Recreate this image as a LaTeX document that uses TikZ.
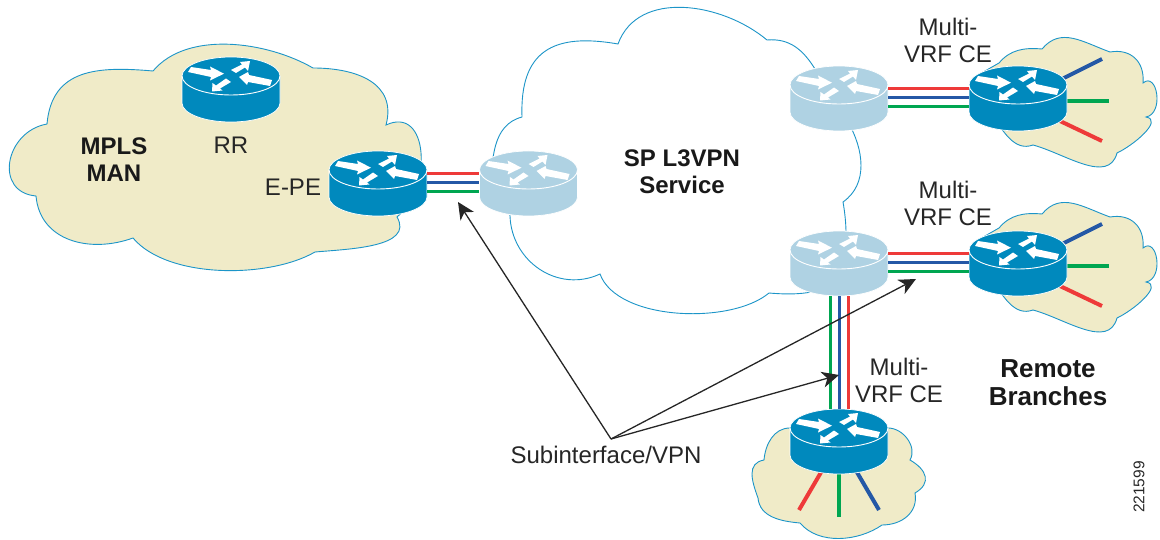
\documentclass[tikz,border=0pt]{standalone}
\usepackage{fontspec}
\setmainfont{Liberation Sans}
\usetikzlibrary{arrows.meta,backgrounds}

\definecolor{routerdark}{HTML}{0089BD}
\definecolor{routerlight}{HTML}{AFD2E3}
\definecolor{cloudcream}{HTML}{F0EBC8}
\definecolor{cloudline}{HTML}{1C95C8}
\definecolor{vpnred}{HTML}{EE3A39}
\definecolor{vpnblue}{HTML}{2458A6}
\definecolor{vpngreen}{HTML}{00A651}

\tikzset{
  pics/router/.style={code={
    \node[inner sep=0pt,minimum width=98pt,minimum height=65pt] (-box) at (0,-13.5) {};
    \draw[white,line width=.7pt,fill=#1] (-49,0) -- (-49,-27) arc[start angle=180,end angle=360,x radius=49,y radius=19] -- (49,0) arc[start angle=0,end angle=180,x radius=49,y radius=19] -- cycle;
    \draw[white,line width=.9pt] (-49,0) arc[start angle=180,end angle=360,x radius=49,y radius=19];
    \fill[white] (-40,9) -- (-20,6) -- (-21,9.5) -- (-7,2.3) -- (-21,-4.5) -- (-20,-1) -- (-43,4) -- cycle;
    \fill[white] (0,6) -- (11,11.5) -- (9,14) -- (19,15) -- (17,5) -- (14,8.5) -- (5,3) -- cycle;
    \fill[white] (-5,-2.5) -- (-15,-9.5) -- (-18.5,-7) -- (-19,-15.5) -- (-8.5,-14.5) -- (-11,-12.5) -- (0,-6) -- cycle;
    \fill[white] (41,-4) -- (18,1) -- (17,4) -- (8,-1) -- (16,-9) -- (17,-6) -- (39,-10) -- cycle;
  }}
}

\begin{document}
\begin{tikzpicture}[x=1pt,y=1pt,
    cloud line/.style={draw=cloudline,line width=.9pt},
    cream cloud/.style={cloud line,fill=cloudcream},
    vpn link/.style={line width=3pt},
    vpn branch/.style={line width=4pt},
    pointer/.style={black!85,line width=1.3pt,-{Stealth[length=17pt,width=16pt,inset=5pt]}},
    plain label/.style={align=center,inner sep=0pt,font=\fontsize{24}{27}\selectfont,text=black!85},
    bold label/.style={align=center,inner sep=0pt,font=\fontsize{24}{27}\selectfont\bfseries,text=black!90}]

  \useasboundingbox (0,0) rectangle (1160,-540);

  % routers
  \pic (rr) at (231,-76) {router=routerdark};
  \pic (epe) at (378,-170) {router=routerdark};
  \pic (pe) at (528.5,-170) {router=routerlight};
  \pic (pea) at (839,-85) {router=routerlight};
  \pic (peb) at (839,-250) {router=routerlight};
  \pic (cea) at (1018,-85) {router=routerdark};
  \pic (ceb) at (1018,-250) {router=routerdark};
  \pic (cec) at (839,-428) {router=routerdark};

  % coordinates for the free ends
  \coordinate (ceablue) at (1102,-59);
  \coordinate (ceagreen) at (1109,-101);
  \coordinate (ceared) at (1102,-141);
  \coordinate (cebblue) at (1102,-224);
  \coordinate (cebgreen) at (1109,-266);
  \coordinate (cebred) at (1102,-306);
  \coordinate (cecred) at (799,-510);
  \coordinate (cecgreen) at (839,-517);
  \coordinate (cecblue) at (879,-510);

  \begin{pgfonlayer}{background}
    % clouds
    \draw[cream cloud] (47,-124) to[out=85,in=175,looseness=1.2] (153,-71) to[out=50,in=150,looseness=.85] (313,-68)
      to[out=0,in=75,looseness=1.2] (386,-125) to[out=25,in=40,looseness=1.3] (397,-217)
      to[out=-60,in=5] (315,-252) to[out=-150,in=-50,looseness=.75] (133,-238)
      to[out=-160,in=-85,looseness=1.1] (36,-196) to[out=175,in=190,looseness=1.5] (47,-124) -- cycle;
    \draw[cloud line,fill=white] (522,-117) to[out=92,in=170,looseness=1.4] (618,-44) to[out=70,in=140] (767,-40)
      to[out=5,in=130] (848,-122) to[out=-60,in=35] (843,-202)
      to[out=-80,in=90] (846,-262) to[out=-100,in=-5] (769,-293)
      to[out=-140,in=-70,looseness=.75] (600,-274) to[out=-155,in=-88,looseness=1.1] (510,-216)
      to[out=90,in=-60] (490,-190) to[out=85,in=195] (522,-117) -- cycle;
    \foreach \cx/\cy in {1018/-85,1018/-250}{
      \begin{scope}[shift={(\cx,\cy)}]
        \draw[cream cloud] (-19,22) to[out=50,in=175] (24,36) to[out=50,in=160,looseness=1.1] (92,33)
          to[out=10,in=85,looseness=1.2] (125,2) to[out=40,in=10,looseness=1.4] (128,-32)
          to[out=-10,in=25] (99,-68) to[out=-105,in=-15] (15,-60)
          to[out=-160,in=-55] (-26,-30) -- (-40,10) -- cycle;
      \end{scope}
    }
    \draw[cream cloud] (790,-428) to[out=180,in=85] (764,-460) to[out=-170,in=110,looseness=1.2] (758,-498)
      to[out=-85,in=175] (800,-523) to[out=-50,in=-145,looseness=.9] (882,-525)
      to[out=0,in=-80,looseness=1.1] (915,-493) to[out=30,in=-30,looseness=1.5] (910,-460)
      to[out=60,in=0] (888,-428) -- cycle;

    % branch lines go under the routers
    \foreach \ce in {cea,ceb}{
      \draw[vpn branch,vpnblue] ([yshift=-2.5pt]\ce-box.center) -- (\ce blue);
      \draw[vpn branch,vpngreen] ([yshift=-2.5pt]\ce-box.center) -- (\ce green);
      \draw[vpn branch,vpnred] ([yshift=-2.5pt]\ce-box.center) -- (\ce red);
    }
    \draw[vpn branch,vpnred] (cec-box.center) -- (cecred);
    \draw[vpn branch,vpngreen] (cec-box.center) -- (cecgreen);
    \draw[vpn branch,vpnblue] (cec-box.center) -- (cecblue);
  \end{pgfonlayer}

  % subinterfaces
  \foreach \from/\to in {epe-box/pe-box,pea-box/cea-box,peb-box/ceb-box}{
    \draw[vpn link,vpnred] ([yshift=9.5pt]\from.east) -- ([yshift=9.5pt]\to.west);
    \draw[vpn link,vpnblue] ([yshift=.5pt]\from.east) -- ([yshift=.5pt]\to.west);
    \draw[vpn link,vpngreen] ([yshift=-8.5pt]\from.east) -- ([yshift=-8.5pt]\to.west);
  }
  \draw[vpn link,vpngreen] ([xshift=-9pt]peb-box.south) -- ([xshift=-9pt]cec-box.north);
  \draw[vpn link,vpnblue] (peb-box.south) -- (cec-box.north);
  \draw[vpn link,vpnred] ([xshift=9pt]peb-box.south) -- ([xshift=9pt]cec-box.north);

  % labels
  \node[bold label] (mpls) at (114,-160) {MPLS\\MAN};
  \node[plain label] (rrlabel) at (231,-145) {RR};
  \node[plain label] (epelabel) at (293,-187) {E-PE};
  \node[bold label] (sp) at (682,-171.5) {SP L3VPN\\Service};
  \node[plain label] (vrfa) at (948,-40.5) {Multi-\\VRF CE};
  \node[plain label] (vrfb) at (948,-203.5) {Multi-\\VRF CE};
  \node[plain label] (vrfc) at (899,-380.5) {Multi-\\VRF CE};
  \node[bold label,font=\fontsize{26}{28}\selectfont\bfseries] (remote) at (1048,-383) {Remote\\Branches};
  \node[plain label] (subif) at (606,-455) {Subinterface/VPN};
  \node[inner sep=0pt,rotate=90,font=\fontsize{15.5}{18}\selectfont,text=black!85] (figid) at (1139,-487) {221599};

  % pointers
  \coordinate (subiforigin) at (611,-439);
  \coordinate (tipa) at (458,-202);
  \coordinate (tipb) at (916,-279);
  \coordinate (tipc) at (839,-375);
  \draw[pointer] (subiforigin) -- (tipa);
  \draw[pointer] (subiforigin) -- (tipb);
  \draw[pointer] (subiforigin) -- (tipc);

\end{tikzpicture}
\end{document}
